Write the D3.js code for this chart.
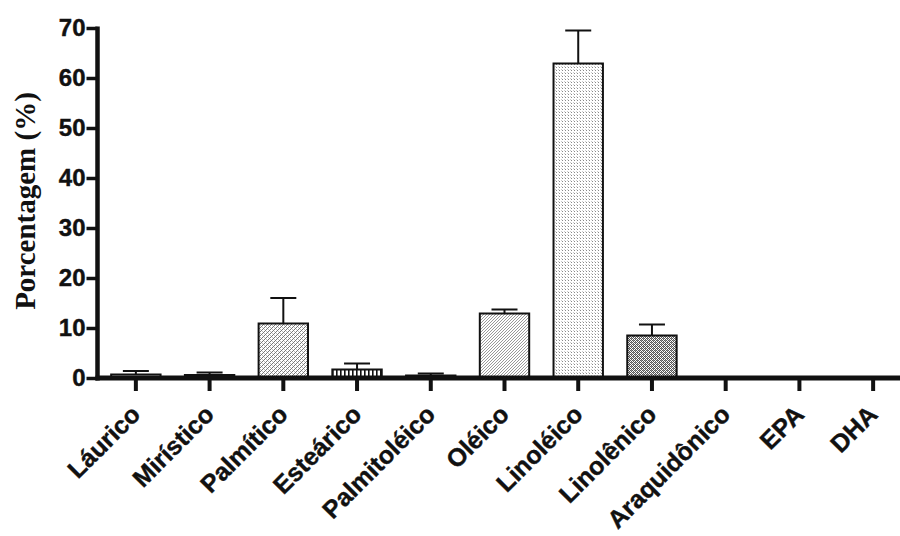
<!DOCTYPE html>
<html>
<head>
<meta charset="utf-8">
<script src="https://cdn.jsdelivr.net/npm/d3@7"></script>
<style>
  html, body { margin: 0; padding: 0; background: #fff; }
  svg { display: block; }
</style>
</head>
<body>
<div id="chart"></div>
<script>
// Fatty acid composition (mean + SD), percent of total
const categories = ["Láurico", "Mirístico", "Palmítico", "Esteárico", "Palmitoléico",
                    "Oléico", "Linoléico", "Linolênico", "Araquidônico", "EPA", "DHA"];
const means = [0.7, 0.6, 10.9, 1.7, 0.5, 12.9, 62.9, 8.5, 0, 0, 0];
const sds   = [0.7, 0.5, 5.1, 1.2, 0.4, 0.8, 6.6, 2.2, 0, 0, 0];
const yTicks = [0, 10, 20, 30, 40, 50, 60, 70];
const yTitle = "Porcentagem (%)";

const W = 900, H = 536;
const svg = d3.select("#chart").append("svg")
  .attr("width", W).attr("height", H)
  .style("background", "#fff");

// ---- fill patterns, one per bar ----
const defs = svg.append("defs");
function pat(id, size, draw) {
  const p = defs.append("pattern").attr("id", id)
    .attr("patternUnits", "userSpaceOnUse")
    .attr("width", size).attr("height", size);
  p.append("rect").attr("width", size).attr("height", size).attr("fill", "#fff");
  draw(p);
  return `url(#${id})`;
}
function dots(p, pts, color, s = 1) {
  pts.forEach(([x, y]) => p.append("rect").attr("x", x).attr("y", y)
    .attr("width", s).attr("height", s).attr("fill", color));
}

const fills = [
  // light grey
  pat("pLaur", 2, p => dots(p, [[0, 0]], "#999")),
  // dark
  pat("pMir", 2, p => dots(p, [[0, 0], [1, 1], [1, 0]], "#333")),
  // dense diagonal stipple
  pat("pPalm", 4, p => {
    dots(p, [[0, 3], [1, 2], [2, 1], [3, 0]], "#777");
    dots(p, [[0, 1], [2, 3]], "#bbb");
  }),
  // vertical stripes
  pat("pEst", 4, p => p.append("rect").attr("x", 0).attr("y", 0)
    .attr("width", 1.6).attr("height", 4).attr("fill", "#111")),
  // near black
  pat("pPalmt", 2, p => dots(p, [[0, 0], [1, 1], [1, 0], [0, 1]], "#222")),
  // fine diagonal stipple, lighter
  pat("pOle", 3, p => {
    dots(p, [[0, 2], [1, 1], [2, 0]], "#999");
  }),
  // sparse dots
  pat("pLin", 3, p => {
    dots(p, [[1, 1]], "#888");
    dots(p, [[0, 0]], "#ccc");
  }),
  // dark check
  pat("pLnl", 4, p => {
    dots(p, [[0, 0], [2, 0], [1, 1], [3, 1], [0, 2], [2, 2], [1, 3], [3, 3]], "#555");
    dots(p, [[1, 0], [3, 2]], "#999");
  }),
  "#fff", "#fff", "#fff"
];

// ---- scales ----
const x = d3.scaleBand()
  .domain(categories)
  .range([99, 910])
  .paddingInner(0.33)
  .paddingOuter(0.165);

const y = d3.scaleLinear()
  .domain([0, 70])
  .range([378, 28]);

const ink = "#111";
const sans = "'Liberation Sans', Arial, Helvetica, sans-serif";

// ---- bars ----
const g = svg.append("g");
g.selectAll("rect.bar")
  .data(categories)
  .join("rect")
  .attr("class", "bar")
  .attr("x", d => x(d))
  .attr("width", x.bandwidth())
  .attr("y", (d, i) => y(means[i]))
  .attr("height", (d, i) => y(0) - y(means[i]))
  .attr("fill", (d, i) => fills[i])
  .attr("stroke", ink)
  .attr("stroke-width", 2)
  .style("display", (d, i) => means[i] > 0 ? null : "none");

// ---- error bars (upper whisker only) ----
const capW = 26;
const eb = g.selectAll("g.err")
  .data(categories.map((c, i) => ({ c, m: means[i], s: sds[i] })).filter(d => d.s > 0))
  .join("g").attr("class", "err");
eb.append("line")
  .attr("x1", d => x(d.c) + x.bandwidth() / 2)
  .attr("x2", d => x(d.c) + x.bandwidth() / 2)
  .attr("y1", d => y(d.m))
  .attr("y2", d => y(d.m + d.s))
  .attr("stroke", ink).attr("stroke-width", 2);
eb.append("line")
  .attr("x1", d => x(d.c) + x.bandwidth() / 2 - capW / 2)
  .attr("x2", d => x(d.c) + x.bandwidth() / 2 + capW / 2)
  .attr("y1", d => y(d.m + d.s))
  .attr("y2", d => y(d.m + d.s))
  .attr("stroke", ink).attr("stroke-width", 2);

// ---- y axis ----
const yAxis = svg.append("g")
  .attr("transform", "translate(97.5,0)")
  .call(d3.axisLeft(y).tickValues(yTicks).tickSize(11).tickSizeOuter(0).tickPadding(1));
yAxis.select(".domain").attr("stroke", ink).attr("stroke-width", 4.5)
  .attr("d", `M0,${y(70) - 1.5}V${y(0) + 2.5}`);
yAxis.selectAll(".tick line").attr("stroke", ink).attr("stroke-width", 3.5);
yAxis.selectAll(".tick text")
  .attr("fill", ink)
  .attr("stroke", ink).attr("stroke-width", 0.4)
  .style("font-family", sans)
  .style("font-weight", "bold")
  .style("font-size", "24px");

// ---- x axis ----
const xAxis = svg.append("g")
  .attr("transform", `translate(0,${y(0)})`)
  .call(d3.axisBottom(x).tickSize(13).tickSizeOuter(0).tickFormat(""));
xAxis.select(".domain").attr("stroke", ink).attr("stroke-width", 5)
  .attr("d", "M95.5,0H910");
xAxis.selectAll(".tick line").attr("stroke", ink).attr("stroke-width", 4);

// rotated category labels
svg.append("g").selectAll("text")
  .data(categories)
  .join("text")
  .attr("transform", d => `translate(${x(d) + x.bandwidth() / 2 + 6},416) rotate(-45)`)
  .attr("text-anchor", "end")
  .attr("fill", ink)
  .attr("stroke", ink).attr("stroke-width", 0.4)
  .style("font-family", sans)
  .style("font-weight", "bold")
  .style("font-size", "25px")
  .text(d => d);

// ---- y axis title ----
svg.append("text")
  .attr("transform", "translate(35,201) rotate(-90)")
  .attr("text-anchor", "middle")
  .attr("fill", ink)
  .style("font-family", "'Liberation Serif', 'Times New Roman', serif")
  .style("font-weight", "bold")
  .style("font-size", "29px")
  .text(yTitle);
</script>
</body>
</html>
